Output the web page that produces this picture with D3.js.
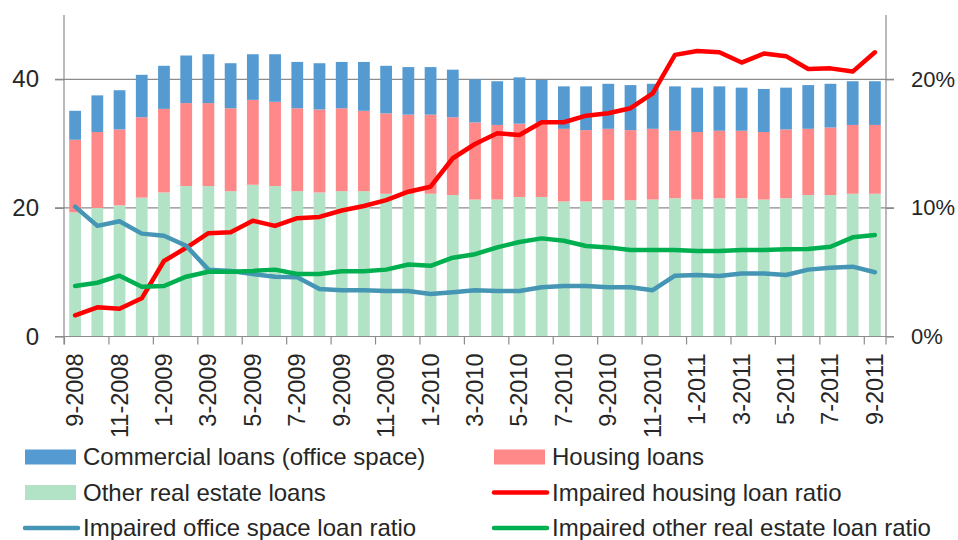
<!DOCTYPE html>
<html>
<head>
<meta charset="utf-8">
<script src="https://cdn.jsdelivr.net/npm/d3@7"></script>
<style>
  body { margin: 0; background: #fff; }
  svg text { font-family: "Liberation Sans", Arial, sans-serif; fill: #262626; }
</style>
</head>
<body>
<script>
// months, 9-2008 .. 9-2011
const months = [
  '9-2008','10-2008','11-2008','12-2008','1-2009','2-2009','3-2009','4-2009','5-2009','6-2009',
  '7-2009','8-2009','9-2009','10-2009','11-2009','12-2009','1-2010','2-2010','3-2010','4-2010',
  '5-2010','6-2010','7-2010','8-2010','9-2010','10-2010','11-2010','12-2010','1-2011','2-2011',
  '3-2011','4-2011','5-2011','6-2011','7-2011','8-2011','9-2011'
];

// stacked bars (left axis)
const otherLoans = [19.3,20.0,20.4,21.6,22.4,23.4,23.4,22.6,23.6,23.4,22.6,22.4,22.6,22.6,22.2,22.2,22.2,22.0,21.3,21.3,
  21.7,21.7,21.0,21.0,21.2,21.2,21.3,21.5,21.3,21.5,21.5,21.3,21.5,22.0,22.0,22.2,22.2];
const housingLoans = [11.3,11.8,11.8,12.5,13.0,12.9,12.9,12.9,13.2,13.1,12.9,12.9,12.9,12.5,12.5,12.3,12.3,12.1,12.0,11.6,
  11.4,11.6,11.3,11.1,11.1,10.9,11.0,10.5,10.5,10.5,10.5,10.5,10.7,10.3,10.5,10.7,10.7];
const commercialLoans = [4.5,5.7,6.1,6.6,6.7,7.4,7.6,7.0,7.1,7.4,7.2,7.2,7.2,7.6,7.4,7.4,7.4,7.4,6.7,6.8,
  7.2,6.6,6.6,6.8,7.0,7.0,7.0,6.9,6.9,6.9,6.7,6.7,6.5,6.8,6.8,6.8,6.8];

// impaired loan ratios in % (right axis)
const impHousing = [1.65,2.27,2.16,2.97,5.87,6.9,8.03,8.1,9.0,8.6,9.2,9.3,9.8,10.15,10.6,11.26,11.65,13.86,14.97,15.8,
  15.67,16.66,16.66,17.17,17.36,17.75,18.9,21.9,22.2,22.1,21.3,22.0,21.8,20.8,20.85,20.6,22.1];
const impOffice = [10.1,8.6,8.96,8.0,7.84,7.06,5.2,5.1,4.86,4.65,4.6,3.7,3.6,3.6,3.54,3.54,3.3,3.44,3.6,3.54,
  3.54,3.83,3.93,3.93,3.83,3.83,3.6,4.73,4.78,4.7,4.9,4.9,4.78,5.2,5.35,5.43,5.0];
const impOther = [3.93,4.18,4.73,3.87,3.93,4.65,5.04,5.04,5.1,5.2,4.86,4.86,5.07,5.07,5.2,5.6,5.5,6.13,6.4,6.93,
  7.35,7.63,7.45,7.04,6.93,6.73,6.73,6.73,6.65,6.65,6.73,6.73,6.78,6.8,6.98,7.71,7.9];

const leftTicks = [0, 20, 40];
const rightTicks = [0, 10, 20];

let width = 958,
    height = 540;

const plotLeft = 64, plotRight = 886, plotTop = 15, plotBottom = 336.5;

let svg = d3.select('body')
    .append('svg')
    .attr('width', width)
    .attr('height', height);

// scales
let x = d3.scaleBand()
    .domain(months)
    .range([plotLeft, plotRight])
    .paddingInner(0.47)
    .paddingOuter(0.235);

let y = d3.scaleLinear().domain([0, 50]).range([plotBottom, plotTop]);
let y2 = d3.scaleLinear().domain([0, 25]).range([plotBottom, plotTop]);

// gridlines
svg.append('g')
    .selectAll('line')
    .data(leftTicks.filter(d => d > 0))
    .join('line')
    .attr('x1', plotLeft - 9).attr('x2', plotRight + 8)
    .attr('y1', d => y(d)).attr('y2', d => y(d))
    .attr('stroke', '#8c8c8c')
    .attr('stroke-width', 1.2);

// stacked bars
let rows = months.map((m, i) => ({
    month: m,
    other: otherLoans[i],
    housing: housingLoans[i],
    commercial: commercialLoans[i]
}));
let keys = ['other', 'housing', 'commercial'];
let barColors = { other: '#b3e3c6', housing: '#ff8888', commercial: '#559bd1' };
let stack = d3.stack().keys(keys)(rows);

svg.append('g')
    .selectAll('g')
    .data(stack)
    .join('g')
    .attr('fill', d => barColors[d.key])
    .selectAll('rect')
    .data(d => d)
    .join('rect')
    .attr('x', d => x(d.data.month))
    .attr('width', x.bandwidth())
    .attr('y', d => y(d[1]))
    .attr('height', d => y(d[0]) - y(d[1]));

// axes
let axisColor = '#8c8c8c';

let yAxis = svg.append('g')
    .attr('transform', 'translate(' + plotLeft + ',0)')
    .call(d3.axisLeft(y).tickValues(leftTicks).tickSize(9).tickPadding(16));

let y2Axis = svg.append('g')
    .attr('transform', 'translate(' + plotRight + ',0)')
    .call(d3.axisRight(y2).tickValues(rightTicks).tickSize(8).tickPadding(17)
        .tickFormat(d => d + '%'));

// tick marks at every second month boundary
let boundary = d3.scaleLinear().domain([0, months.length]).range([plotLeft, plotRight]);
let xAxis = svg.append('g')
    .attr('transform', 'translate(0,' + plotBottom + ')')
    .call(d3.axisBottom(boundary).tickValues(d3.range(0, months.length, 2)).tickSize(8).tickFormat(''));

[yAxis, y2Axis, xAxis].forEach(g => {
    g.select('.domain').attr('stroke', axisColor).attr('stroke-width', 1.2);
    g.selectAll('.tick line').attr('stroke', axisColor).attr('stroke-width', 1.2);
    g.selectAll('.tick text').style('font-size', '24px').attr('fill', '#262626');
});
y2Axis.selectAll('.tick text').style('font-size', '22px');
yAxis.select('.domain').attr('d', 'M0,' + plotTop + 'V' + (plotBottom + 8));
y2Axis.select('.domain').attr('d', 'M0,' + plotTop + 'V' + (plotBottom + 8));
xAxis.select('.domain').attr('d', 'M' + (plotLeft - 9) + ',0H' + (plotRight + 8));

// month labels, rotated
svg.append('g')
    .selectAll('text')
    .data(months.filter((m, i) => i % 2 === 0))
    .join('text')
    .attr('transform', d => 'translate(' + (x(d) + x.bandwidth() / 2 + 8) + ',' + (plotBottom + 17) + ') rotate(-90)')
    .attr('text-anchor', 'end')
    .style('font-size', '23.5px')
    .text(d => d);

// lines on the right axis
let lineFunc = d3.line()
    .x((d, i) => x(months[i]) + x.bandwidth() / 2)
    .y(d => y2(d));

let lines = [
    { name: 'Impaired housing loan ratio', values: impHousing, color: '#ff0000' },
    { name: 'Impaired office space loan ratio', values: impOffice, color: '#4596b4' },
    { name: 'Impaired other real estate loan ratio', values: impOther, color: '#00b050' }
];

lines.forEach(l => {
    svg.append('path')
        .attr('d', lineFunc(l.values))
        .attr('fill', 'none')
        .attr('stroke', l.color)
        .attr('stroke-width', 4.5)
        .attr('stroke-linejoin', 'round')
        .attr('stroke-linecap', 'round');
});

// legend
let legendItems = [
    { name: 'Commercial loans (office space)', type: 'rect', color: barColors.commercial, col: 0, row: 0 },
    { name: 'Housing loans', type: 'rect', color: barColors.housing, col: 1, row: 0 },
    { name: 'Other real estate loans', type: 'rect', color: barColors.other, col: 0, row: 1 },
    { name: 'Impaired housing loan ratio', type: 'line', color: lines[0].color, col: 1, row: 1 },
    { name: 'Impaired office space loan ratio', type: 'line', color: lines[1].color, col: 0, row: 2 },
    { name: 'Impaired other real estate loan ratio', type: 'line', color: lines[2].color, col: 1, row: 2 }
];
let colX = [24, 493];
let rowY = [457, 492.5, 528];

let leg = svg.append('g')
    .selectAll('g')
    .data(legendItems)
    .join('g')
    .attr('transform', d => 'translate(' + colX[d.col] + ',' + rowY[d.row] + ')');

leg.filter(d => d.type === 'rect')
    .append('rect')
    .attr('x', 1).attr('y', -7.5)
    .attr('width', 51).attr('height', 15)
    .attr('fill', d => d.color);

leg.filter(d => d.type === 'line')
    .append('line')
    .attr('x1', 1).attr('x2', 54)
    .attr('stroke', d => d.color)
    .attr('stroke-width', 4.5)
    .attr('stroke-linecap', 'round');

leg.append('text')
    .attr('x', 59)
    .attr('dy', '0.35em')
    .style('font-size', '24px')
    .text(d => d.name);
</script>
</body>
</html>
